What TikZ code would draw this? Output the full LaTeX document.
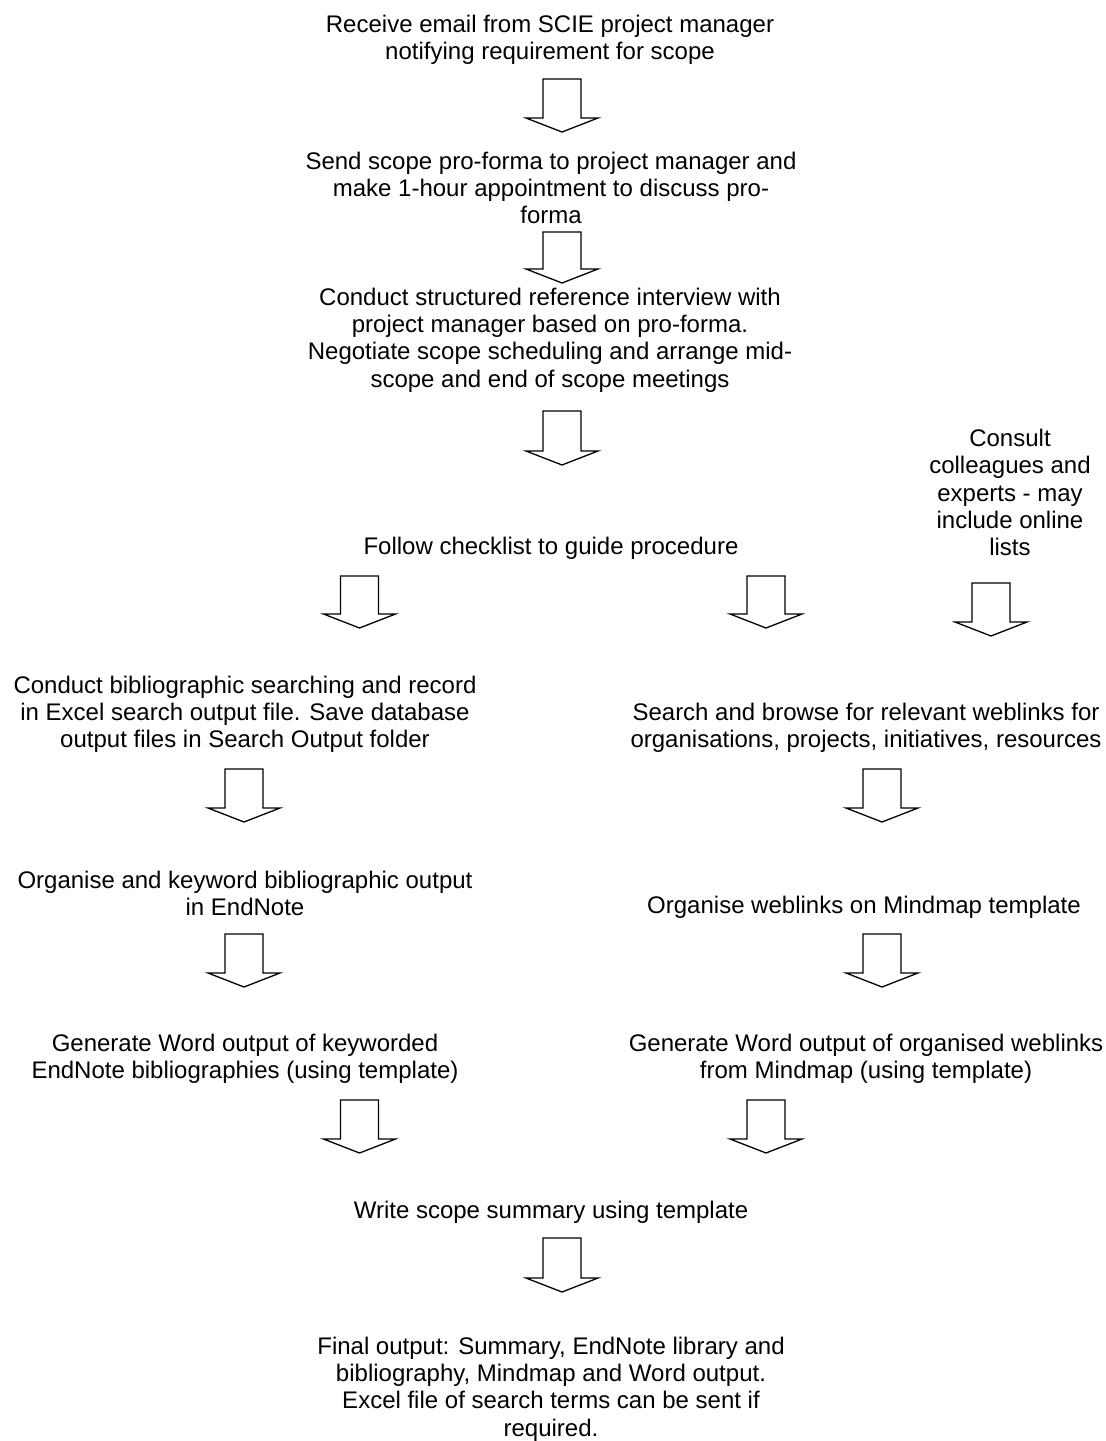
\documentclass[tikz,border=0pt]{standalone}
\usepackage{fontspec}
\setmainfont{Liberation Sans}
\usetikzlibrary{positioning}

% block arrow: centre x, top y, tip y
\newcommand{\flowarrow}[3]{%
  \draw[blockarrow] (#1-19,#2) -- (#1+19,#2) -- (#1+19,#3-14) -- (#1+36,#3-14)
    -- (#1,#3) -- (#1-36,#3-14) -- (#1-19,#3-14) -- cycle;}

\begin{document}
\begin{tikzpicture}[
  x=0.5pt, y=-0.5pt,
  stage/.style={align=center, inner sep=0pt, font=\fontsize{12pt}{13.6pt}\selectfont},
  blockarrow/.style={draw=black, fill=white, line width=0.65pt, line join=miter}
]
  \useasboundingbox (0,0) rectangle (1105,1441);

  \node[stage] (recv)   at (550,39.5) {Receive email from SCIE project manager\\notifying requirement for scope};
  \node[stage] (send)   at (551,188)  {Send scope pro-forma to project manager and\\make 1-hour appointment to discuss pro-\\forma};
  \node[stage] (intv)   at (550,340)  {Conduct structured reference interview with\\project manager based on pro-forma.\\Negotiate scope scheduling and arrange mid-\\scope and end of scope meetings};
  \node[stage] (check)  at (551,548)  {Follow checklist to guide procedure};
  \node[stage] (consult) at (1010,492.5) {Consult\\colleagues and\\experts - may\\include online\\lists};

  \node[stage] (biblio) at (245,714)  {Conduct bibliographic searching and record\\in Excel search output file. Save database\\output files in Search Output folder};
  \node[stage] (web)    at (866,728)  {Search and browse for relevant weblinks for\\organisations, projects, initiatives, resources};
  \node[stage] (endnote) at (245,893.5) {Organise and keyword bibliographic output\\in EndNote};
  \node[stage] (mind)   at (864,907)  {Organise weblinks on Mindmap template};
  \node[stage] (wordL)  at (245,1059) {Generate Word output of keyworded\\EndNote bibliographies (using template)};
  \node[stage] (wordR)  at (866,1059) {Generate Word output of organised weblinks\\from Mindmap (using template)};
  \node[stage] (summ)   at (551,1212) {Write scope summary using template};
  \node[stage] (final)  at (551,1389) {Final output: Summary, EndNote library and\\bibliography, Mindmap and Word output.\\Excel file of search terms can be sent if\\required.};

  \flowarrow{562}{79}{132}
  \flowarrow{562}{232}{283}
  \flowarrow{562}{411}{465}
  \flowarrow{359.5}{576}{628}
  \flowarrow{766}{576}{628}
  \flowarrow{991}{583}{636}
  \flowarrow{244}{769}{822}
  \flowarrow{882}{769}{822}
  \flowarrow{244}{934}{987}
  \flowarrow{882}{934}{987}
  \flowarrow{359.5}{1100}{1153}
  \flowarrow{766}{1100}{1153}
  \flowarrow{562}{1238}{1292}
\end{tikzpicture}
\end{document}
